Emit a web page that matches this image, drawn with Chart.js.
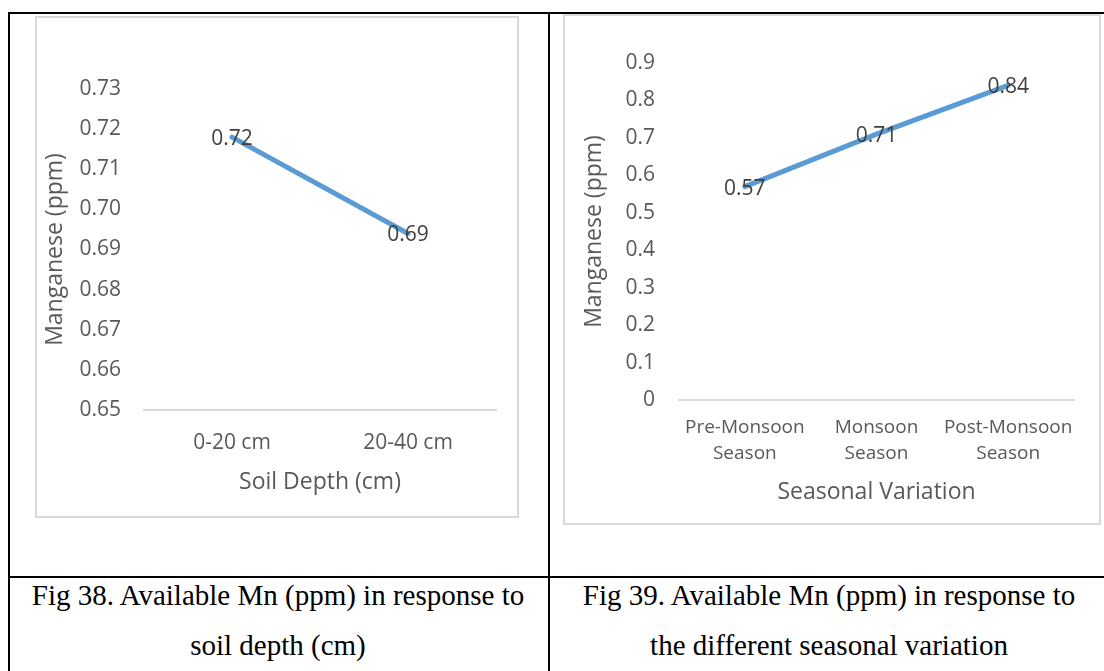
<!DOCTYPE html>
<html>
<head>
<meta charset="utf-8">
<script src="https://cdn.jsdelivr.net/npm/chart.js@4.4.0/dist/chart.umd.min.js"></script>
<style>
  body { margin: 0; background: #fff; }
  #page { position: relative; width: 1104px; height: 671px; overflow: hidden; background: #fff; }
  .rule { position: absolute; background: #000; }
  .box { position: absolute; border: 2px solid #d9d9d9; box-sizing: border-box; background: #fff; }
  .box canvas { display: block; }
  .cap { position: absolute; font-family: "Liberation Serif", "Times New Roman", serif; font-size: 29px;
         color: #000; text-align: center; white-space: nowrap; height: 50px; line-height: 50px; }
</style>
</head>
<body>
<div id="page">
  <!-- table rules -->
  <div class="rule" style="left:8px; top:12px; width:1096px; height:2px;"></div>
  <div class="rule" style="left:8px; top:12px; width:2px; height:659px;"></div>
  <div class="rule" style="left:548px; top:12px; width:2px; height:659px;"></div>
  <div class="rule" style="left:8px; top:576px; width:1096px; height:2px;"></div>

  <div class="box" style="left:35px; top:16px; width:484px; height:502px;">
    <canvas id="depthChart" width="480" height="498"></canvas>
  </div>
  <div class="box" style="left:563px; top:14px; width:538px; height:511px;">
    <canvas id="seasonChart" width="534" height="507"></canvas>
  </div>

  <div class="cap" style="left:28px; width:500px; top:570px;">Fig 38. Available Mn (ppm) in response to</div>
  <div class="cap" style="left:28px; width:500px; top:620px;">soil depth (cm)</div>
  <div class="cap" style="left:579px; width:500px; top:570px;">Fig 39. Available Mn (ppm) in response to</div>
  <div class="cap" style="left:579px; width:500px; top:620px;">the different seasonal variation</div>
</div>

<script>
// Fig 38 - soil depth
var depthLabels = ['0-20 cm', '20-40 cm'];
var depthMn = [0.718, 0.694];
var depthRange = [0.65, 0.73];
var depthStep = 0.01;

// Fig 39 - seasons
var seasonLabels = [['Pre-Monsoon', 'Season'], ['Monsoon', 'Season'], ['Post-Monsoon', 'Season']];
var seasonMn = [0.57, 0.71, 0.84];
var seasonRange = [0, 0.9];
var seasonStep = 0.1;

var FONT = '"Open Sans", "Noto Sans", sans-serif';
var AXIS_GREY = '#595959';
var LINE_BLUE = '#5B9BD5';

// value labels drawn centred on each point
var valueLabels = {
    id: 'valueLabels',
    afterDatasetsDraw: function (chart, args, opts) {
        var ctx = chart.ctx;
        var values = chart.data.datasets[0].data;
        chart.getDatasetMeta(0).data.forEach(function (pt, i) {
            ctx.save();
            ctx.font = opts.size + 'px ' + FONT;
            ctx.fillStyle = '#404040';
            ctx.textAlign = 'center';
            ctx.textBaseline = 'middle';
            ctx.fillText(values[i].toFixed(2), pt.x + (opts.dx || 0), pt.y + (opts.dy || 0));
            ctx.restore();
        });
    }
};

function makeLineChart(id, cfg) {
    var ctx = document.getElementById(id).getContext('2d');
    return new Chart(ctx, {
        type: 'line',
        data: {
            labels: cfg.labels,
            datasets: [{
                data: cfg.values,
                borderColor: LINE_BLUE,
                borderWidth: 5,
                borderCapStyle: 'round',
                pointRadius: 0,
                pointHoverRadius: 0,
                tension: 0,
                fill: false
            }]
        },
        options: {
            responsive: false,
            animation: false,
            events: [],
            layout: { padding: { top: cfg.padTop, right: cfg.padRight, bottom: 0, left: 0 } },
            plugins: {
                legend: { display: false },
                tooltip: { enabled: false },
                valueLabels: { size: 21, dx: 0, dy: 2 }
            },
            scales: {
                x: {
                    offset: true,
                    grid: { display: false, drawTicks: false },
                    border: { display: true, color: '#d9d9d9', width: 2 },
                    ticks: {
                        color: AXIS_GREY,
                        padding: cfg.xTickPad,
                        maxRotation: 0,
                        autoSkip: false,
                        font: { family: FONT, size: cfg.xTickSize, lineHeight: cfg.xTickLine }
                    },
                    title: {
                        display: true,
                        text: cfg.xTitle,
                        color: AXIS_GREY,
                        font: { family: FONT, size: 23 },
                        padding: { top: 0, bottom: cfg.xTitlePad }
                    },
                    afterFit: function (scale) { scale.height = cfg.xHeight; }
                },
                y: {
                    min: cfg.range[0],
                    max: cfg.range[1],
                    grid: { display: false, drawTicks: false },
                    border: { display: false },
                    ticks: {
                        stepSize: cfg.step,
                        color: AXIS_GREY,
                        padding: cfg.yTickPad,
                        font: { family: FONT, size: 21 },
                        callback: cfg.yFormat
                    },
                    title: {
                        display: true,
                        text: 'Manganese (ppm)',
                        color: AXIS_GREY,
                        font: { family: FONT, size: 23 },
                        padding: { top: cfg.yTitlePad, bottom: 0 }
                    },
                    afterFit: function (scale) { scale.width = cfg.yWidth; }
                }
            }
        },
        plugins: [valueLabels]
    });
}

makeLineChart('depthChart', {
    labels: depthLabels,
    values: depthMn,
    range: depthRange,
    step: depthStep,
    yFormat: function (v) { return v.toFixed(2); },
    xTitle: 'Soil Depth (cm)',
    padTop: 71, padRight: 21,
    yWidth: 107, yTickPad: 23, yTitlePad: 5,
    xHeight: 106, xTickPad: 20, xTickSize: 21, xTickLine: 1.2, xTitlePad: 20
});

makeLineChart('seasonChart', {
    labels: seasonLabels,
    values: seasonMn,
    range: seasonRange,
    step: seasonStep,
    yFormat: function (v) { return v === 0 ? '0' : v.toFixed(1); },
    xTitle: 'Seasonal Variation',
    padTop: 47, padRight: 25,
    yWidth: 114, yTickPad: 24, yTitlePad: 16,
    xHeight: 123, xTickPad: 15, xTickSize: 19, xTickLine: 1.37, xTitlePad: 17
});
</script>
</body>
</html>
